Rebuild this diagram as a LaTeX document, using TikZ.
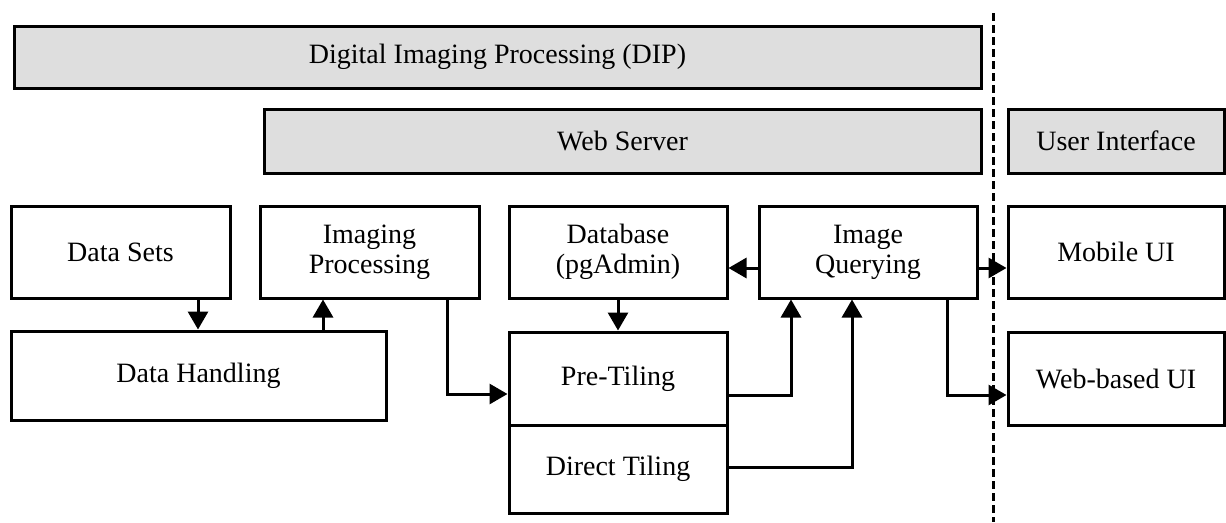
\documentclass[tikz,border=0pt]{standalone}
\usepackage{fontspec}
\setmainfont{Liberation Serif}
\usetikzlibrary{arrows.meta}
\definecolor{boxgray}{HTML}{DEDEDE}
\begin{document}
\begin{tikzpicture}[x=1pt,y=-1pt,
  box/.style={draw, line width=3pt, inner sep=0pt, align=center,
    font=\fontsize{28}{30}\selectfont},
  graybox/.style={box, fill=boxgray},
  arr/.style={line width=3pt, -{Triangle[length=18pt,width=20pt]}},
  divider/.style={line width=3pt, dash pattern=on 8pt off 4pt}]
\useasboundingbox (0,0) rectangle (1226,522);

% top bars
\node[graybox, minimum width=967pt, minimum height=62pt] (dip) at (497.5,57) {Digital Imaging Processing (DIP)};
\node[graybox, minimum width=717pt, minimum height=64pt] (web) at (622.5,141) {Web Server};
\node[graybox, minimum width=216pt, minimum height=64pt] (ui) at (1116,141) {User Interface};

% row 1
\node[box, minimum width=219pt, minimum height=92pt] (ds) at (120.5,252) {Data Sets};
\node[box, minimum width=219pt, minimum height=92pt] (ip) at (369.5,252) {Imaging\\Processing};
\node[box, minimum width=218pt, minimum height=92pt] (db) at (618,252) {Database\\(pgAdmin)};
\node[box, minimum width=218pt, minimum height=92pt] (iq) at (868,252) {Image\\Querying};
\node[box, minimum width=216pt, minimum height=92pt] (mob) at (1116,252) {Mobile UI};

% row 2
\node[box, minimum width=375pt, minimum height=89pt] (dh) at (198.5,375.5) {Data Handling};
\node[box, minimum width=218pt, minimum height=93pt] (pt) at (618,378.5) {Pre-Tiling};
\node[box, minimum width=218pt, minimum height=88pt] (dt) at (618,469) {Direct Tiling};
\node[box, minimum width=216pt, minimum height=93pt] (wb) at (1116,378.5) {Web-based UI};

% dashed divider
\coordinate (dtop) at (993,13);
\coordinate (dbot) at (993,522);
\draw[divider] (dtop) -- (dbot);

% helper coordinates
\coordinate (c1) at (198,0);
\coordinate (c2) at (323,0);
\coordinate (c3) at (447,0);
\coordinate (c5) at (791,0);
\coordinate (c6) at (852,0);
\coordinate (c7) at (947,0);
\coordinate (r1) at (0,394);
\coordinate (r2) at (0,268);
\coordinate (r3) at (0,395);
\coordinate (r4) at (0,467);

% connectors
\draw[arr] (ds.south -| c1) -- (dh.north -| c1);
\draw[arr] (dh.north -| c2) -- (ip.south -| c2);
\draw[arr] (ip.south -| c3) |- (pt.west |- r1);
\draw[arr] (db.south) -- (pt.north);
\draw[arr] (iq.west |- r2) -- (db.east |- r2);
\draw[arr] (pt.east |- r3) -| (iq.south -| c5);
\draw[arr] (dt.east |- r4) -| (iq.south -| c6);
\draw[arr] (iq.east |- r2) -- (mob.west |- r2);
\draw[arr] (iq.south -| c7) |- (wb.west |- r3);
\end{tikzpicture}
\end{document}
